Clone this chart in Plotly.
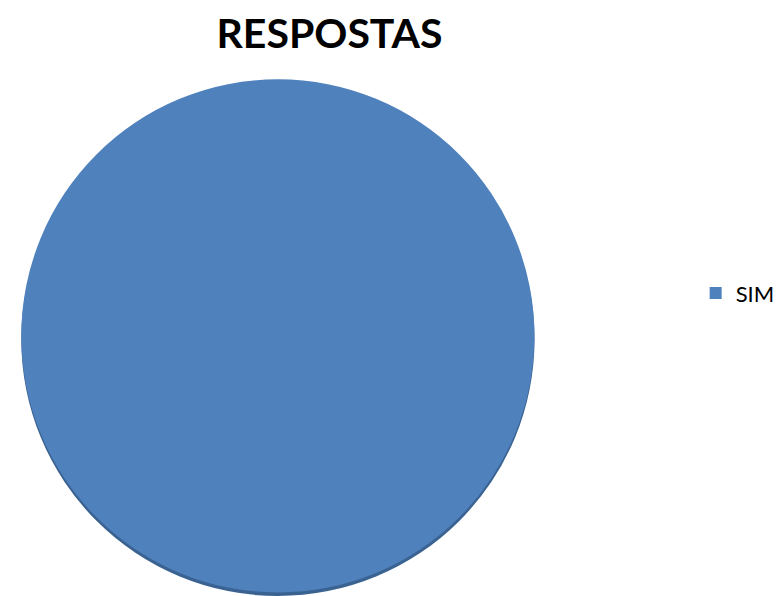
import plotly.graph_objects as go

labels = ["SIM"]
values = [100]
colors = ["#4F81BD"]
shadow_colors = ["#3B6392"]

fig = go.Figure()

# shadow (3D edge) drawn from the same data, shifted slightly down
fig.add_trace(go.Pie(
    labels=labels, values=values,
    marker=dict(colors=shadow_colors, line=dict(width=0)),
    textinfo="none", hoverinfo="skip", showlegend=False, sort=False,
    domain=dict(x=[0.0154, 0.698], y=[0.0, 0.861]),
))
fig.add_trace(go.Pie(
    labels=labels, values=values,
    marker=dict(colors=colors, line=dict(width=0)),
    textinfo="none", showlegend=True, sort=False,
    domain=dict(x=[0.0154, 0.698], y=[0.006, 0.867]),
))

fig.update_layout(
    width=779, height=596,
    margin=dict(l=0, r=0, t=0, b=0, autoexpand=False),
    paper_bgcolor="white", plot_bgcolor="white",
    title=dict(text="<b>RESPOSTAS</b>", x=0.423, xanchor="center",
               y=0.943, yanchor="middle",
               font=dict(family="Lato", size=41, color="black")),
    legend=dict(x=0.893, y=0.508, xanchor="left", yanchor="middle",
                font=dict(family="Lato", size=22, color="black"),
                itemsizing="constant"),
)

fig.write_html("out.html", config={"displayModeBar": False},
               post_script="document.body.style.margin='0';document.body.style.overflow='hidden';")
